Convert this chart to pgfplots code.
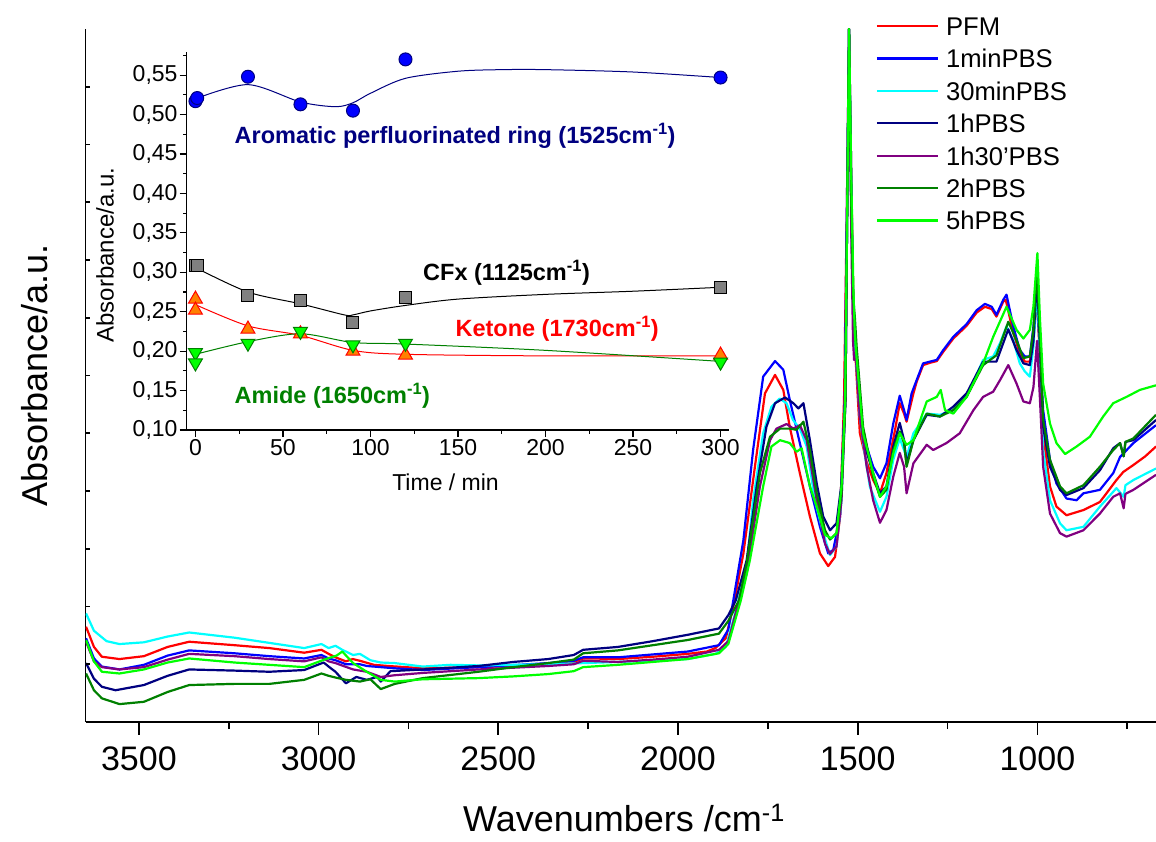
\documentclass[border=0pt]{standalone}
\usepackage{fontspec}
\setmainfont{Liberation Sans}
\usepackage{pgfplots}
\pgfplotsset{compat=1.18}
\definecolor{cnavy}{RGB}{0,0,128}
\definecolor{cpurple}{RGB}{128,0,128}
\definecolor{cdgreen}{RGB}{0,128,0}
\definecolor{clime}{RGB}{0,255,0}
\definecolor{ccyan}{RGB}{0,255,255}
\definecolor{corange}{RGB}{255,128,0}
\definecolor{cgray}{RGB}{128,128,128}
\begin{document}
\begin{tikzpicture}
\useasboundingbox (-85.7pt,-119pt) rectangle (1070.3pt,722pt);
\begin{axis}[
  at={(0pt,0pt)}, anchor=south west,
  scale only axis, width=1070.3pt, height=693pt,
  xmin=670, xmax=3648, x dir=reverse, ymin=0, ymax=12,
  axis lines=left, axis line style={-, line width=1.6pt},
  tick align=outside,
  xtick={1000,1500,2000,2500,3000,3500},
  minor xtick={750,1250,1750,2250,2750,3250},
  ytick=\empty,
  major tick length=12.7pt, minor tick length=7pt,
  tick style={line width=1.6pt, black},
  /pgf/number format/assume math mode=true,
  /pgf/number format/set thousands separator={},
  xticklabel style={font=\fontsize{34}{40}\selectfont, inner sep=0pt, yshift=-12pt},
  xlabel={Wavenumbers /cm\textsuperscript{-1}},
  xlabel style={font=\fontsize{36}{42}\selectfont, at={(axis description cs:0.503,0)}, anchor=base, yshift=-109pt},
  legend style={at={(0.7381,1.0177)}, anchor=north west, draw=none, fill=none, inner sep=0pt,
    font=\fontsize{25.6}{30}\selectfont, row sep=13.9pt, column sep=7pt,
    nodes={inner sep=0pt, text height=18.5pt, text depth=0pt}},
  legend cell align=left,
  legend image code/.code={\draw[#1] (0pt,0pt) -- (61pt,0pt);},
  every axis plot/.append style={line width=2.2pt, no marks, line join=round},
]
\addplot[red] coordinates {(3647,1.65)(3625,1.30)(3603,1.13)(3554,1.09)(3486,1.14)(3420,1.30)(3360,1.39)(3234,1.33)(3137,1.28)(3040,1.20)(2992,1.25)(2972,1.18)(2953,1.12)(2924,1.05)(2905,1.09)(2885,1.06)(2846,0.99)(2807,0.97)(2710,0.93)(2555,0.95)(2458,0.97)(2361,1.00)(2290,1.04)(2264,1.10)(2240,1.10)(2167,1.09)(2070,1.13)(1973,1.18)(1920,1.22)(1896,1.28)(1867,1.45)(1846,2.00)(1818,2.92)(1786,4.42)(1758,5.69)(1730,6.01)(1707,5.75)(1689,5.11)(1661,4.31)(1633,3.56)(1605,2.92)(1582,2.70)(1563,2.86)(1549,3.56)(1538,5.58)(1530,9.0)(1524,12.0)(1518,9.5)(1512,7.2)(1505,6.2)(1494,5.0)(1475,4.5)(1457,4.19)(1438,3.96)(1420,4.31)(1396,5.06)(1383,5.52)(1371,5.34)(1364,5.20)(1345,5.69)(1336,5.89)(1318,6.18)(1299,6.22)(1280,6.25)(1262,6.41)(1234,6.64)(1197,6.86)(1169,7.09)(1146,7.19)(1127,7.15)(1114,7.02)(1095,7.28)(1088,7.31)(1067,6.73)(1049,6.38)(1035,6.24)(1021,6.24)(1011,6.61)(1002,7.4)(993,6.3)(984,5.0)(965,4.08)(947,3.73)(919,3.58)(872,3.67)(826,3.81)(780,4.19)(761,4.33)(733,4.45)(700,4.6)(670,4.77)};
\addlegendentry{PFM}
\addplot[blue] coordinates {(3647,1.45)(3625,1.10)(3603,0.96)(3554,0.91)(3486,0.99)(3420,1.15)(3360,1.24)(3234,1.19)(3137,1.14)(3040,1.10)(2992,1.16)(2972,1.10)(2953,1.07)(2924,1.00)(2885,1.00)(2866,0.97)(2788,0.93)(2710,0.90)(2555,0.95)(2361,1.02)(2290,1.06)(2264,1.12)(2167,1.12)(2070,1.17)(1973,1.22)(1886,1.33)(1860,1.60)(1846,2.11)(1818,3.15)(1791,4.71)(1763,5.98)(1730,6.25)(1707,6.10)(1689,5.58)(1661,4.83)(1633,4.08)(1605,3.38)(1582,2.92)(1568,2.98)(1549,3.56)(1536,5.58)(1530,9.0)(1524,12.0)(1518,9.5)(1512,7.0)(1503,6.2)(1494,5.29)(1475,4.77)(1457,4.42)(1438,4.22)(1420,4.48)(1401,5.17)(1383,5.65)(1371,5.40)(1364,5.23)(1350,5.69)(1336,5.92)(1318,6.21)(1299,6.24)(1280,6.27)(1262,6.44)(1234,6.67)(1197,6.89)(1169,7.13)(1146,7.24)(1127,7.19)(1114,7.05)(1095,7.31)(1086,7.40)(1067,6.85)(1049,6.44)(1035,6.33)(1021,6.33)(1011,6.85)(1002,7.5)(993,6.4)(984,5.40)(965,4.54)(947,4.13)(919,3.87)(891,3.84)(872,3.96)(826,4.02)(789,4.31)(770,4.59)(733,4.83)(670,5.14)};
\addlegendentry{1minPBS}
\addplot[ccyan] coordinates {(3647,1.88)(3625,1.58)(3590,1.40)(3554,1.35)(3486,1.38)(3420,1.48)(3360,1.55)(3234,1.46)(3137,1.37)(3040,1.28)(2992,1.35)(2972,1.28)(2953,1.32)(2934,1.25)(2904,1.16)(2885,1.18)(2856,1.07)(2827,1.03)(2788,1.02)(2710,0.96)(2633,0.99)(2555,0.98)(2361,1.00)(2167,1.04)(1973,1.09)(1896,1.18)(1867,1.30)(1840,1.90)(1809,2.69)(1791,3.84)(1763,5.00)(1740,5.46)(1717,5.60)(1698,5.52)(1680,5.23)(1661,5.08)(1642,4.77)(1619,3.84)(1596,3.27)(1577,2.89)(1559,3.04)(1545,3.84)(1534,5.6)(1529,9.0)(1524,12.0)(1518,9.0)(1512,7.0)(1505,6.3)(1494,5.3)(1485,4.83)(1466,4.07)(1438,3.64)(1420,3.90)(1401,4.54)(1383,4.91)(1364,4.59)(1345,5.0)(1308,5.34)(1271,5.32)(1234,5.40)(1197,5.63)(1151,6.27)(1123,6.33)(1104,6.56)(1086,6.85)(1067,6.61)(1049,6.21)(1035,6.07)(1021,5.98)(1011,6.5)(1001,7.5)(993,6.4)(984,4.71)(965,3.84)(937,3.44)(919,3.32)(872,3.38)(826,3.73)(780,4.05)(760,3.9)(755,4.1)(733,4.19)(670,4.39)};
\addlegendentry{30minPBS}
\addplot[cnavy] coordinates {(3647,1.02)(3625,0.75)(3603,0.61)(3565,0.55)(3486,0.64)(3420,0.80)(3360,0.91)(3234,0.89)(3137,0.87)(3040,0.90)(2986,1.03)(2970,0.95)(2953,0.87)(2924,0.67)(2895,0.78)(2866,0.73)(2837,0.78)(2827,0.70)(2800,0.88)(2710,0.91)(2555,0.97)(2458,1.04)(2361,1.09)(2290,1.16)(2264,1.25)(2167,1.30)(2070,1.40)(1973,1.51)(1886,1.62)(1860,1.85)(1839,2.11)(1809,2.80)(1781,4.08)(1754,5.11)(1730,5.52)(1702,5.62)(1679,5.52)(1665,5.43)(1651,5.52)(1633,4.88)(1614,4.13)(1596,3.56)(1577,3.32)(1559,3.44)(1545,4.13)(1534,5.58)(1529,9.0)(1524,12.0)(1518,9.0)(1512,7.0)(1508,6.8)(1503,6.3)(1485,4.88)(1457,4.31)(1438,3.96)(1420,4.08)(1401,4.77)(1383,5.18)(1371,4.88)(1364,4.48)(1345,4.88)(1308,5.32)(1271,5.29)(1234,5.46)(1197,5.69)(1151,6.24)(1114,6.24)(1081,6.80)(1058,6.44)(1039,6.21)(1021,6.18)(1011,6.6)(1001,7.7)(993,6.5)(984,5.11)(965,4.42)(937,4.02)(919,3.93)(872,4.05)(826,4.36)(789,4.74)(770,4.83)(760,4.6)(755,4.85)(733,4.88)(670,5.23)};
\addlegendentry{1hPBS}
\addplot[cpurple] coordinates {(3647,1.39)(3625,1.05)(3603,0.95)(3554,0.91)(3486,0.95)(3420,1.08)(3360,1.18)(3234,1.14)(3137,1.09)(3040,1.05)(2992,1.12)(2972,1.05)(2953,1.02)(2904,0.91)(2866,0.87)(2827,0.78)(2788,0.81)(2710,0.85)(2555,0.91)(2361,0.97)(2290,1.00)(2264,1.06)(2167,1.04)(2070,1.08)(1973,1.13)(1886,1.25)(1860,1.40)(1830,2.11)(1809,2.57)(1772,4.08)(1744,4.88)(1726,5.08)(1698,5.16)(1679,5.08)(1661,5.14)(1642,4.88)(1614,3.84)(1591,3.09)(1577,2.91)(1559,3.04)(1545,3.84)(1534,5.58)(1529,9.0)(1524,12.0)(1518,8.5)(1513,6.6)(1510,6.27)(1505,6.3)(1494,5.29)(1475,4.42)(1457,3.84)(1438,3.45)(1420,3.67)(1401,4.25)(1383,4.66)(1371,4.42)(1364,3.96)(1345,4.48)(1308,4.80)(1290,4.71)(1253,4.83)(1216,5.00)(1178,5.40)(1151,5.63)(1123,5.72)(1104,5.92)(1081,6.18)(1058,5.86)(1039,5.55)(1021,5.52)(1011,5.8)(1001,6.6)(993,5.6)(984,4.42)(965,3.61)(937,3.27)(919,3.21)(872,3.32)(826,3.61)(789,3.90)(770,3.96)(760,3.7)(755,3.95)(733,4.02)(670,4.28)};
\addlegendentry{1h30'PBS}
\addplot[cdgreen] coordinates {(3647,0.84)(3625,0.55)(3603,0.41)(3554,0.31)(3486,0.35)(3420,0.52)(3360,0.64)(3234,0.66)(3137,0.66)(3040,0.73)(2992,0.84)(2972,0.80)(2953,0.77)(2924,0.73)(2885,0.70)(2856,0.74)(2827,0.57)(2788,0.66)(2710,0.76)(2555,0.87)(2458,0.95)(2361,1.02)(2290,1.08)(2264,1.19)(2167,1.24)(2070,1.33)(1973,1.42)(1886,1.53)(1860,1.75)(1830,2.11)(1809,2.75)(1772,4.31)(1744,4.94)(1716,5.08)(1689,5.08)(1670,5.06)(1651,5.20)(1633,4.71)(1614,3.96)(1591,3.32)(1577,3.16)(1559,3.27)(1545,3.96)(1534,5.58)(1529,9.0)(1524,12.0)(1518,9.0)(1512,7.3)(1508,7.02)(1503,6.5)(1485,5.11)(1457,4.25)(1438,3.90)(1420,4.02)(1401,4.71)(1383,5.03)(1371,4.83)(1364,4.42)(1345,4.88)(1308,5.34)(1271,5.29)(1234,5.40)(1197,5.63)(1151,6.18)(1114,6.35)(1081,6.93)(1058,6.61)(1039,6.30)(1021,6.33)(1011,6.8)(1001,7.9)(993,6.6)(984,5.23)(965,4.54)(937,4.08)(919,3.96)(872,4.10)(826,4.42)(789,4.71)(770,4.83)(760,4.6)(755,4.85)(733,4.91)(670,5.32)};
\addlegendentry{2hPBS}
\addplot[clime] coordinates {(3647,1.42)(3625,1.05)(3603,0.87)(3554,0.84)(3486,0.91)(3420,1.03)(3360,1.10)(3234,1.03)(3137,0.99)(3040,0.95)(2980,1.09)(2950,1.15)(2934,1.22)(2904,1.02)(2866,0.87)(2827,0.73)(2788,0.70)(2710,0.74)(2555,0.76)(2458,0.79)(2361,0.83)(2290,0.88)(2264,0.95)(2167,0.99)(2070,1.04)(1973,1.09)(1886,1.19)(1860,1.35)(1825,2.11)(1800,2.80)(1763,4.08)(1740,4.77)(1716,4.88)(1689,4.83)(1670,4.68)(1656,4.74)(1633,4.08)(1614,3.73)(1591,3.24)(1573,3.18)(1559,3.27)(1545,4.08)(1535,5.58)(1529,9.0)(1524,12.0)(1518,9.5)(1512,7.5)(1508,6.73)(1503,6.3)(1485,5.00)(1457,4.31)(1438,3.90)(1420,4.08)(1401,4.65)(1383,5.00)(1364,4.80)(1345,4.88)(1308,5.55)(1280,5.63)(1269,5.75)(1257,5.40)(1234,5.34)(1197,5.63)(1151,6.21)(1123,6.67)(1086,7.19)(1058,6.79)(1039,6.64)(1021,6.79)(1011,7.2)(1000,8.12)(993,7.0)(984,5.86)(965,5.17)(947,4.83)(923,4.64)(891,4.77)(854,4.94)(817,5.29)(789,5.52)(752,5.63)(715,5.75)(670,5.83)};
\addlegendentry{5hPBS}
\end{axis}
\foreach \k in {1,...,11} \draw[line width=1.6pt] (0pt,\k*57.75pt) -- (4pt,\k*57.75pt);
\node[rotate=90, font=\fontsize{36}{42}\selectfont] at (-50.7pt,346.5pt) {Absorbance/a.u.};
\begin{axis}[
  at={(101pt,292pt)}, anchor=south west,
  scale only axis, width=542.6pt, height=377.7pt,
  xmin=-5, xmax=305, ymin=0.10, ymax=0.579,
  axis lines=left, axis line style={-, line width=1.2pt},
  tick align=outside,
  xtick={0,50,100,150,200,250,300},
  minor xtick={25,75,125,175,225,275},
  ytick={0.10,0.15,0.20,0.25,0.30,0.35,0.40,0.45,0.50,0.55},
  minor ytick={0.125,0.175,0.225,0.275,0.325,0.375,0.425,0.475,0.525,0.575},
  major tick length=7pt, minor tick length=3.5pt,
  tick style={line width=1.2pt, black},
  /pgf/number format/assume math mode=true,
  yticklabel style={/pgf/number format/.cd, fixed, fixed zerofill, precision=2, use comma},
  ticklabel style={font=\fontsize{23}{28}\selectfont, inner sep=2pt},
  xlabel={Time / min},
  xlabel style={font=\fontsize{23}{28}\selectfont, at={(axis description cs:0.477,0)}, anchor=center, yshift=-52pt},
  clip=false,
]
\addplot[cnavy, line width=1pt, smooth, no marks] coordinates {(0,0.520)(30,0.538)(60,0.516)(80,0.510)(90,0.515)(100,0.527)(120,0.546)(150,0.555)(175,0.557)(200,0.557)(250,0.554)(300,0.547)};
\addplot[black, line width=1pt, smooth, no marks] coordinates {(0,0.306)(30,0.275)(60,0.260)(85,0.246)(90,0.246)(100,0.251)(120,0.258)(150,0.266)(200,0.272)(250,0.276)(300,0.281)};
\addplot[red, line width=1pt, smooth, no marks] coordinates {(0,0.259)(30,0.232)(60,0.220)(90,0.201)(120,0.196)(200,0.194)(300,0.194)};
\addplot[cdgreen, line width=1pt, smooth, no marks] coordinates {(0,0.196)(30,0.212)(60,0.222)(90,0.211)(120,0.209)(200,0.201)(300,0.187)};
\addplot[only marks, mark=square*, mark size=6pt, mark options={fill=cgray, draw=black, line width=1pt}] coordinates {(0,0.309)(1,0.309)(30,0.270)(60,0.264)(90,0.236)(120,0.268)(300,0.281)};
\addplot[only marks, mark=triangle*, mark size=8pt, mark options={fill=corange, draw=red, line width=1pt}] coordinates {(0,0.266)(0,0.252)(30,0.228)(60,0.222)(90,0.200)(120,0.195)(300,0.195)};
\addplot[only marks, mark=triangle*, mark size=8pt, mark options={rotate=180, fill=clime, draw=cdgreen, line width=1pt}] coordinates {(0,0.198)(0,0.185)(30,0.210)(60,0.225)(90,0.208)(120,0.210)(300,0.186)};
\addplot[only marks, mark=*, mark size=6.5pt, mark options={fill=blue, draw=cnavy, line width=1pt}] coordinates {(0,0.517)(1,0.521)(30,0.548)(60,0.513)(90,0.505)(120,0.570)(300,0.547)};
\node[anchor=west, inner sep=0pt, text=cnavy, font=\bfseries\fontsize{23.5}{28}\selectfont] at (axis cs:22.3,0.473) {Aromatic perfluorinated ring (1525cm\textsuperscript{-1})};
\node[anchor=west, inner sep=0pt, text=black, font=\bfseries\fontsize{23.5}{28}\selectfont] at (axis cs:130,0.299) {CFx (1125cm\textsuperscript{-1})};
\node[anchor=west, inner sep=0pt, text=red, font=\bfseries\fontsize{23.5}{28}\selectfont] at (axis cs:148.5,0.228) {Ketone (1730cm\textsuperscript{-1})};
\node[anchor=west, inner sep=0pt, text=cdgreen, font=\bfseries\fontsize{23.5}{28}\selectfont] at (axis cs:22.3,0.143) {Amide (1650cm\textsuperscript{-1})};
\end{axis}
\node[rotate=90, font=\fontsize{24}{28}\selectfont] at (19.3pt,467pt) {Absorbance/a.u.};
\end{tikzpicture}
\end{document}
